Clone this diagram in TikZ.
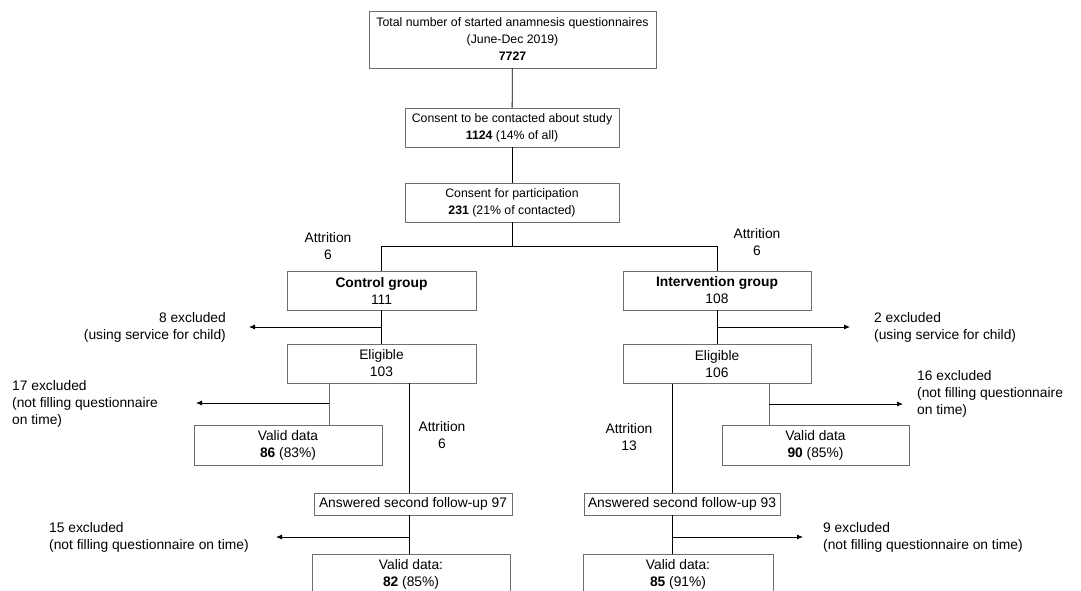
\documentclass[tikz,border=0pt]{standalone}
\usepackage{fontspec}
\setmainfont{Liberation Sans}
\usepackage{tikz}
\usetikzlibrary{arrows.meta}

\tikzset{
    flowbox/.style={draw=boxgray, line width=0.8pt, align=center, inner sep=0pt,
        font=\fontsize{13.8}{17}\selectfont},
    topbox/.style={flowbox, font=\fontsize{12.3}{17}\selectfont},
    flownote/.style={align=center, inner sep=0pt, font=\fontsize{13.8}{17}\selectfont},
    flowline/.style={draw=black, line width=0.8pt},
    exclline/.style={draw=black, line width=0.8pt, -{Latex[length=6pt,width=5pt]}},
}

\begin{document}
\begin{tikzpicture}[x=1pt, y=-1pt]
    \definecolor{boxgray}{RGB}{110,110,110}
    \useasboundingbox (0,0) rectangle (1081,590);

    % top of the chart
    \node[topbox, minimum width=287pt, minimum height=57pt] (total) at (512.5,39.5)
        {Total number of started anamnesis questionnaires\\(June-Dec 2019)\\\textbf{7727}};
    \node[topbox, minimum width=214pt, minimum height=39pt] (contact) at (512,127.5)
        {Consent to be contacted about study\\\textbf{1124} (14\% of all)};
    \node[topbox, minimum width=214pt, minimum height=39pt] (particip) at (512,202.5)
        {Consent for participation\\\textbf{231} (21\% of contacted)};

    % groups
    \node[flowbox, minimum width=189pt, minimum height=39pt] (control) at (381.5,290.5)
        {\textbf{Control group}\\111};
    \node[flowbox, minimum width=188pt, minimum height=39pt] (interv) at (717,290.5)
        {\textbf{Intervention group}\\108};
    \node[flowbox, minimum width=189pt, minimum height=39pt] (eligctrl) at (381.5,363.5)
        {Eligible\\103};
    \node[flowbox, minimum width=188pt, minimum height=39pt] (eliginterv) at (717,364)
        {Eligible\\106};
    \node[flowbox, minimum width=188pt, minimum height=40pt] (validctrl) at (288,445)
        {Valid data\\\textbf{86} (83\%)};
    \node[flowbox, minimum width=187pt, minimum height=40pt] (validinterv) at (815.5,445)
        {Valid data\\\textbf{90} (85\%)};
    \node[flowbox, minimum width=198pt, minimum height=22pt] (answctrl) at (413,504)
        {Answered second follow-up 97};
    \node[flowbox, minimum width=196pt, minimum height=22pt] (answinterv) at (682,504)
        {Answered second follow-up 93};
    \node[flowbox, minimum width=198pt, minimum height=40pt, anchor=north] (finalctrl) at (411,554)
        {Valid data:\\\textbf{82} (85\%)};
    \node[flowbox, minimum width=190pt, minimum height=40pt, anchor=north] (finalinterv) at (678,554)
        {Valid data:\\\textbf{85} (91\%)};

    % labels
    \node[flownote] (attrctrl) at (328,246.5) {Attrition\\6};
    \node[flownote] (attrinterv) at (757,242.5) {Attrition\\6};
    \node[flownote] (attrctrltwo) at (442,435.5) {Attrition\\6};
    \node[flownote] (attrintervtwo) at (629,437.5) {Attrition\\13};
    \node[flownote, align=right, anchor=east] (exserctrl) at (226,327.5)
        {8 excluded\\(using service for child)};
    \node[flownote, align=left, anchor=west] (exserinterv) at (874,327.5)
        {2 excluded\\(using service for child)};
    \node[flownote, align=left, anchor=west] (extimectrl) at (12,404)
        {17 excluded\\(not filling questionnaire\\on time)};
    \node[flownote, align=left, anchor=west] (extimeinterv) at (917,394)
        {16 excluded\\(not filling questionnaire\\on time)};
    \node[flownote, align=left, anchor=west] (exfinalctrl) at (49,537.5)
        {15 excluded\\(not filling questionnaire on time)};
    \node[flownote, align=left, anchor=west] (exfinalinterv) at (823,537.5)
        {9 excluded\\(not filling questionnaire on time)};

    % connectors
    \coordinate (split) at (512,246);
    \draw[flowline] (total) -- (contact);
    \draw[flowline] (contact) -- (particip);
    \draw[flowline] (particip) -- (split);
    \draw[flowline] (control.north) -- (control.north |- split) -- (interv.north |- split) -- (interv.north);
    \draw[flowline] (control) -- (eligctrl);
    \draw[flowline] (interv) -- (eliginterv);

    \coordinate (tipserctrl) at (249,327);
    \coordinate (tipserinterv) at (850,327);
    \draw[exclline] (control.south |- tipserctrl) -- (tipserctrl);
    \draw[exclline] (interv.south |- tipserinterv) -- (tipserinterv);

    \coordinate (branchctrl) at (329,403);
    \coordinate (branchinterv) at (769,404);
    \coordinate (tiptimectrl) at (196,403);
    \coordinate (tiptimeinterv) at (903,404);
    \draw[flowline, draw=boxgray] (eligctrl.south -| branchctrl) -- (validctrl.north -| branchctrl);
    \draw[flowline, draw=boxgray] (eliginterv.south -| branchinterv) -- (validinterv.north -| branchinterv);
    \draw[exclline] (branchctrl) -- (tiptimectrl);
    \draw[exclline] (branchinterv) -- (tiptimeinterv);

    \coordinate (downctrl) at (409,537);
    \coordinate (downinterv) at (672,537);
    \coordinate (tipfinalctrl) at (276,537);
    \coordinate (tipfinalinterv) at (803,537);
    \draw[flowline] (eligctrl.south -| downctrl) -- (answctrl.north -| downctrl);
    \draw[flowline] (eliginterv.south -| downinterv) -- (answinterv.north -| downinterv);
    \draw[flowline] (answctrl.south -| downctrl) -- (finalctrl.north -| downctrl);
    \draw[flowline] (answinterv.south -| downinterv) -- (finalinterv.north -| downinterv);
    \draw[exclline] (downctrl) -- (tipfinalctrl);
    \draw[exclline] (downinterv) -- (tipfinalinterv);
\end{tikzpicture}
\end{document}
